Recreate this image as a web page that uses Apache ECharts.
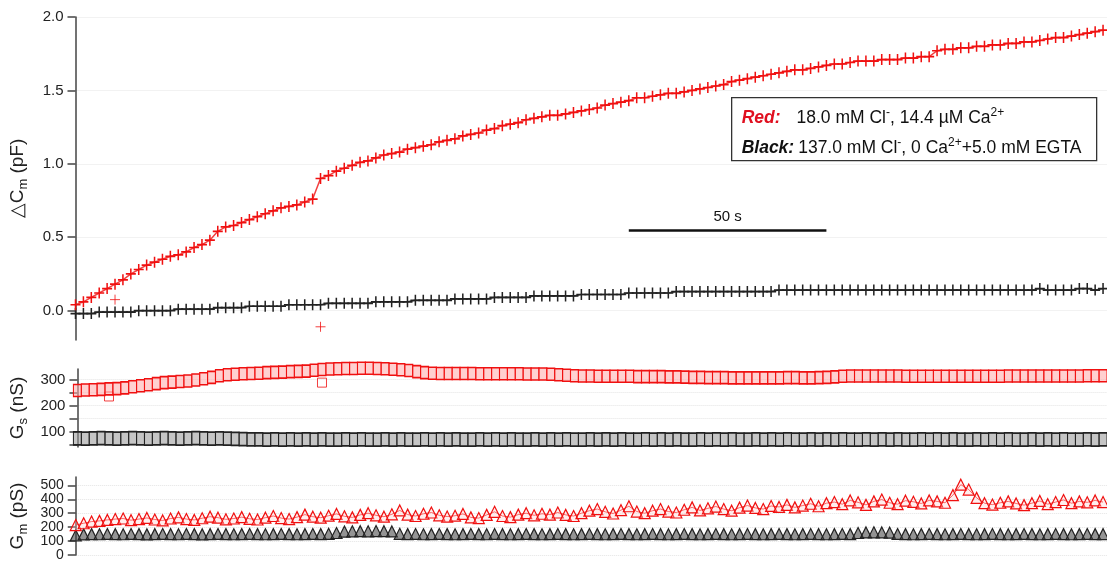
<!DOCTYPE html>
<html>
<head>
    <meta charset="utf-8" />
    <title>Cm Gs Gm</title>
    <style>
        html, body { margin: 0; padding: 0; background: #fff; }
        #main { width: 1107px; height: 562px; }
    </style>
</head>
<body>
    <div id="main"></div>
    <script src="https://cdn.jsdelivr.net/npm/echarts@6/dist/echarts.min.js"></script>
    <script type="text/javascript">
        // sampling step of the traces (s)
        var STEP = 2;

        // ΔCm (pF)
        var cmRed = [
            0.04, 0.06, 0.09, 0.12, 0.15, 0.18,
            0.21, 0.25, 0.28, 0.31, 0.33, 0.35,
            0.37, 0.38, 0.40, 0.43, 0.45, 0.48,
            0.54, 0.57, 0.58, 0.60, 0.62, 0.64,
            0.66, 0.68, 0.70, 0.71, 0.72, 0.74,
            0.76, 0.90, 0.92, 0.95, 0.97, 0.99,
            1.01, 1.02, 1.04, 1.06, 1.07, 1.08,
            1.10, 1.11, 1.12, 1.13, 1.15, 1.16,
            1.17, 1.19, 1.20, 1.21, 1.23, 1.24,
            1.26, 1.27, 1.28, 1.30, 1.31, 1.32,
            1.33, 1.33, 1.34, 1.35, 1.36, 1.37,
            1.38, 1.40, 1.41, 1.42, 1.43, 1.45,
            1.45, 1.46, 1.47, 1.48, 1.48, 1.49,
            1.50, 1.51, 1.52, 1.53, 1.54, 1.56,
            1.57, 1.58, 1.59, 1.60, 1.61, 1.62,
            1.63, 1.64, 1.64, 1.65, 1.66, 1.67,
            1.68, 1.68, 1.69, 1.70, 1.70, 1.70,
            1.71, 1.71, 1.71, 1.72, 1.72, 1.73,
            1.73, 1.77, 1.78, 1.78, 1.79, 1.79,
            1.80, 1.80, 1.81, 1.81, 1.82, 1.82,
            1.83, 1.83, 1.84, 1.85, 1.86, 1.86,
            1.87, 1.88, 1.89, 1.90, 1.91
        ];
        var cmBlack = [
            -0.02, -0.02, -0.02, -0.01, -0.01, -0.01,
            -0.01, -0.01, 0.00, 0.00, 0.00, 0.00,
            0.00, 0.01, 0.01, 0.01, 0.01, 0.01,
            0.02, 0.02, 0.02, 0.02, 0.03, 0.03,
            0.03, 0.03, 0.03, 0.04, 0.04, 0.04,
            0.04, 0.04, 0.05, 0.05, 0.05, 0.05,
            0.05, 0.05, 0.06, 0.06, 0.06, 0.06,
            0.06, 0.07, 0.07, 0.07, 0.07, 0.07,
            0.08, 0.08, 0.08, 0.08, 0.08, 0.09,
            0.09, 0.09, 0.09, 0.09, 0.10, 0.10,
            0.10, 0.10, 0.10, 0.10, 0.11, 0.11,
            0.11, 0.11, 0.11, 0.11, 0.12, 0.12,
            0.12, 0.12, 0.12, 0.12, 0.13, 0.13,
            0.13, 0.13, 0.13, 0.13, 0.13, 0.13,
            0.13, 0.13, 0.13, 0.13, 0.13, 0.14,
            0.14, 0.14, 0.14, 0.14, 0.14, 0.14,
            0.14, 0.14, 0.14, 0.14, 0.14, 0.14,
            0.14, 0.14, 0.14, 0.14, 0.14, 0.14,
            0.14, 0.14, 0.14, 0.14, 0.14, 0.14,
            0.14, 0.14, 0.14, 0.14, 0.14, 0.14,
            0.14, 0.14, 0.15, 0.14, 0.14, 0.14,
            0.14, 0.15, 0.15, 0.14, 0.15
        ];
        var cmRedOut = [[10, 0.075], [62, -0.11]];

        // Gs (nS)
        var gsRed = [
            258, 260, 261, 262, 264, 265,
            268, 272, 276, 280, 284, 288,
            290, 292, 294, 298, 303, 308,
            314, 318, 320, 322, 323, 324,
            326, 327, 328, 330, 331, 332,
            335, 338, 340, 341, 342, 342,
            343, 343, 342, 341, 339, 337,
            334, 330, 326, 324, 323, 323,
            323, 323, 323, 322, 322, 322,
            322, 322, 322, 321, 321, 321,
            320, 318, 316, 314, 313, 313,
            312, 312, 312, 312, 312, 311,
            311, 311, 311, 310, 310, 309,
            308, 308, 307, 307, 307, 306,
            306, 306, 306, 306, 306, 306,
            307, 307, 306, 306, 307, 308,
            310, 312, 313, 313, 313, 313,
            313, 313, 313, 312, 312, 312,
            312, 312, 312, 312, 312, 312,
            312, 312, 312, 312, 313, 313,
            313, 313, 313, 313, 313, 313,
            313, 313, 314, 314, 314
        ];
        var gsBlack = [
            75, 74, 75, 76, 75, 74,
            75, 76, 75, 74, 75, 76,
            75, 74, 75, 76, 75, 74,
            75, 74, 73, 72, 71, 71,
            70, 71, 70, 71, 70, 71,
            70, 71, 70, 70, 71, 70,
            71, 70, 70, 71, 70, 71,
            70, 70, 71, 70, 71, 70,
            71, 70, 70, 71, 70, 71,
            70, 71, 70, 70, 71, 70,
            71, 70, 71, 70, 70, 71,
            70, 71, 70, 71, 70, 70,
            71, 70, 71, 70, 71, 70,
            70, 71, 70, 71, 70, 71,
            70, 70, 71, 70, 71, 70,
            71, 70, 70, 71, 70, 71,
            70, 71, 70, 70, 71, 70,
            71, 70, 71, 70, 70, 71,
            70, 71, 70, 71, 70, 70,
            71, 70, 71, 70, 71, 70,
            70, 71, 70, 71, 70, 71,
            70, 70, 71, 70, 71
        ];
        var gsRedOut = [[8, 235], [62, 288]];

        // Gm (pS)
        var gmRed = [
            215, 228, 240, 245, 252, 258,
            262, 250, 258, 266, 255, 248,
            262, 270, 258, 252, 264, 275,
            268, 256, 262, 272, 260, 255,
            268, 280, 265, 258, 272, 290,
            275, 268, 282, 295, 278, 270,
            288, 300, 285, 275, 292, 320,
            290, 280, 296, 305, 285, 276,
            282, 295, 270, 265, 288, 310,
            280, 272, 290, 300, 285, 296,
            290, 305, 288, 280, 300, 318,
            330, 310, 298, 322, 350, 312,
            300, 318, 330, 312, 305, 325,
            342, 320, 335, 348, 330, 318,
            340, 355, 338, 330, 352, 345,
            360, 342, 355, 368, 350, 372,
            380, 365, 392, 378, 360, 385,
            398, 375, 365, 390, 382, 370,
            392, 385, 375, 430, 505, 470,
            410, 372, 362, 375, 385, 370,
            358, 372, 388, 365, 380, 395,
            372, 385, 378, 392, 380
        ];
        var gmBlack = [
            140, 148, 150, 149, 151, 150,
            149, 151, 150, 148, 150, 151,
            150, 149, 151, 150, 148, 150,
            151, 150, 149, 150, 151, 150,
            149, 150, 151, 150, 149, 150,
            151, 150, 152, 158, 168, 170,
            171, 170, 172, 171, 169, 152,
            150, 151, 149, 150, 151, 150,
            149, 150, 151, 150, 149, 151,
            150, 149, 150, 151, 150, 149,
            150, 151, 150, 149, 150, 151,
            150, 149, 150, 151, 150, 149,
            150, 151, 150, 149, 150, 151,
            150, 149, 150, 151, 150, 149,
            150, 151, 150, 149, 150, 151,
            150, 149, 150, 151, 150, 149,
            150, 151, 150, 158, 162, 163,
            162, 160, 151, 150, 149, 150,
            151, 150, 149, 150, 151, 150,
            149, 150, 151, 150, 149, 150,
            151, 150, 149, 150, 151, 150,
            149, 150, 151, 150, 150
        ];

        // ticks
        var cmTicks = [0, 0.5, 1.0, 1.5, 2.0];
        var gsTicks = [50, 100, 150, 200, 250, 300];
        var gsLabels = [100, 200, 300];
        var gmTicks = [0, 100, 200, 300, 400, 500];

        // 50 s scale bar (time in s, at ΔCm level)
        var scaleBar = [140, 190];
        var scaleBarY = 0.545;

        var RED = '#f01010';
        var BLACK = '#222';
        var FONT = 'Liberation Sans, Arial, sans-serif';

        function pairs(vals) {
            return vals.map(function (v, i) { return [i * STEP, v]; });
        }

        var chart = echarts.init(document.getElementById('main'));

        var subRich = {
            a: { fontSize: 19, fontFamily: FONT, color: '#222', lineHeight: 24 },
            s: { fontSize: 13, fontFamily: FONT, color: '#222', verticalAlign: 'bottom', lineHeight: 24 }
        };

        function yAxis(gi, min, max, ticks, labels, name, dec, fs, lh) {
            return {
                type: 'value', gridIndex: gi, min: min, max: max,
                name: name, nameLocation: 'middle', nameRotate: 90, nameGap: 46,
                nameTextStyle: { rich: subRich },
                axisLine: { show: true, lineStyle: { color: '#444', width: 1.5 } },
                axisTick: { show: true, length: 8, customValues: ticks, lineStyle: { color: '#444', width: 1.5 } },
                axisLabel: {
                    customValues: labels, margin: 12, color: '#222', fontSize: fs, lineHeight: lh,
                    fontFamily: FONT, showMinLabel: true, showMaxLabel: true, hideOverlap: false,
                    formatter: function (v) { return dec ? v.toFixed(1) : String(v); }
                },
                splitLine: { show: true, lineStyle: { color: '#e4e4e4', type: 'dotted', width: 1 } }
            };
        }

        var plusSym = 'path://M5,0L5,10M0,5L10,5';

        function trace(gi, vals, sym, size, fill, stroke, bw, lw) {
            return {
                type: 'line', xAxisIndex: gi, yAxisIndex: gi, data: pairs(vals),
                symbol: sym, symbolSize: size, showSymbol: true, showAllSymbol: true, clip: false,
                itemStyle: { color: fill, borderColor: stroke, borderWidth: bw },
                lineStyle: { color: stroke, width: lw, opacity: lw ? 0.8 : 0 }
            };
        }

        var option = {
            animation: false,
            grid: [
                { left: 75, right: 0, top: 17, height: 323 },
                { left: 75, right: 0, top: 369, height: 78 },
                { left: 75, right: 0, top: 477, height: 80 }
            ],
            xAxis: [0, 1, 2].map(function (gi) {
                return { type: 'value', gridIndex: gi, min: 0, max: 261, show: false };
            }),
            yAxis: [
                yAxis(0, -0.2, 2.0, cmTicks, cmTicks, '{a|△C}{s|m}{a| (pF)}', true, 15, 15),
                yAxis(1, 42, 340, gsTicks, gsLabels, '{a|G}{s|s}{a| (nS)}', false, 15, 15),
                yAxis(2, 0, 560, gmTicks, gmTicks, '{a|G}{s|m}{a| (pS)}', false, 14, 9)
            ],
            series: [
                trace(0, cmBlack, plusSym, [10, 11], 'rgba(0,0,0,0)', BLACK, 1.6, 1.5),
                trace(0, cmRed, plusSym, [10, 11], 'rgba(0,0,0,0)', RED, 1.6, 1.5),
                {
                    type: 'scatter', xAxisIndex: 0, yAxisIndex: 0, data: cmRedOut, clip: false,
                    symbol: plusSym, symbolSize: 10,
                    itemStyle: { color: 'rgba(0,0,0,0)', borderColor: RED, borderWidth: 1 }
                },
                {
                    type: 'line', xAxisIndex: 0, yAxisIndex: 0, data: [], symbol: 'none',
                    markLine: {
                        silent: true, symbol: 'none',
                        lineStyle: { color: '#111', width: 2.5, type: 'solid' },
                        label: { show: true, position: 'middle', formatter: '50 s', color: '#111', fontSize: 15, fontFamily: FONT, distance: 6 },
                        data: [[{ coord: [scaleBar[0], scaleBarY] }, { coord: [scaleBar[1], scaleBarY] }]]
                    }
                },
                trace(1, gsBlack, 'rect', [8, 13], 'rgba(150,150,150,0.55)', BLACK, 1.3, 0),
                trace(1, gsRed, 'rect', [8, 12], 'rgba(255,170,170,0.55)', RED, 1.3, 0),
                {
                    type: 'scatter', xAxisIndex: 1, yAxisIndex: 1, data: gsRedOut, clip: false,
                    symbol: 'rect', symbolSize: [9, 9],
                    itemStyle: { color: 'rgba(255,255,255,0)', borderColor: RED, borderWidth: 1 }
                },
                trace(2, gmBlack, 'triangle', [11, 11], 'rgba(60,60,60,0.55)', BLACK, 1.2, 0),
                trace(2, gmRed, 'triangle', [11, 11], 'rgba(255,200,200,0.3)', RED, 1.2, 1)
            ],
            graphic: [
                {
                    type: 'group', left: 731, top: 97,
                    children: [
                        {
                            type: 'rect', shape: { x: 0, y: 0, width: 365, height: 63 },
                            style: { fill: '#fff', stroke: '#333', lineWidth: 1.3 }
                        },
                        {
                            type: 'text', x: 10, y: 21,
                            style: {
                                text: '{r|Red:}{g| }{t|18.0 mM Cl}{sp|-}{t|, 14.4 µM Ca}{sp|2+}',
                                verticalAlign: 'middle',
                                rich: {
                                    r: { fontSize: 17.5, fontFamily: FONT, fontWeight: 'bold', fontStyle: 'italic', fill: '#e01020', lineHeight: 24 },
                                    g: { fontSize: 17, width: 16, lineHeight: 24 },
                                    t: { fontSize: 17.5, fontFamily: FONT, fill: '#111', lineHeight: 24 },
                                    sp: { fontSize: 12, fontFamily: FONT, fill: '#111', verticalAlign: 'top', lineHeight: 12 }
                                }
                            }
                        },
                        {
                            type: 'text', x: 10, y: 51,
                            style: {
                                text: '{b|Black:}{g| }{t|137.0 mM Cl}{sp|-}{t|, 0 Ca}{sp|2+}{t|+5.0 mM EGTA}',
                                verticalAlign: 'middle',
                                rich: {
                                    b: { fontSize: 17.5, fontFamily: FONT, fontWeight: 'bold', fontStyle: 'italic', fill: '#111', lineHeight: 24 },
                                    g: { fontSize: 17, width: 4, lineHeight: 24 },
                                    t: { fontSize: 17.5, fontFamily: FONT, fill: '#111', lineHeight: 24 },
                                    sp: { fontSize: 12, fontFamily: FONT, fill: '#111', verticalAlign: 'top', lineHeight: 12 }
                                }
                            }
                        }
                    ]
                }
            ]
        };

        chart.setOption(option);
    </script>
</body>
</html>
